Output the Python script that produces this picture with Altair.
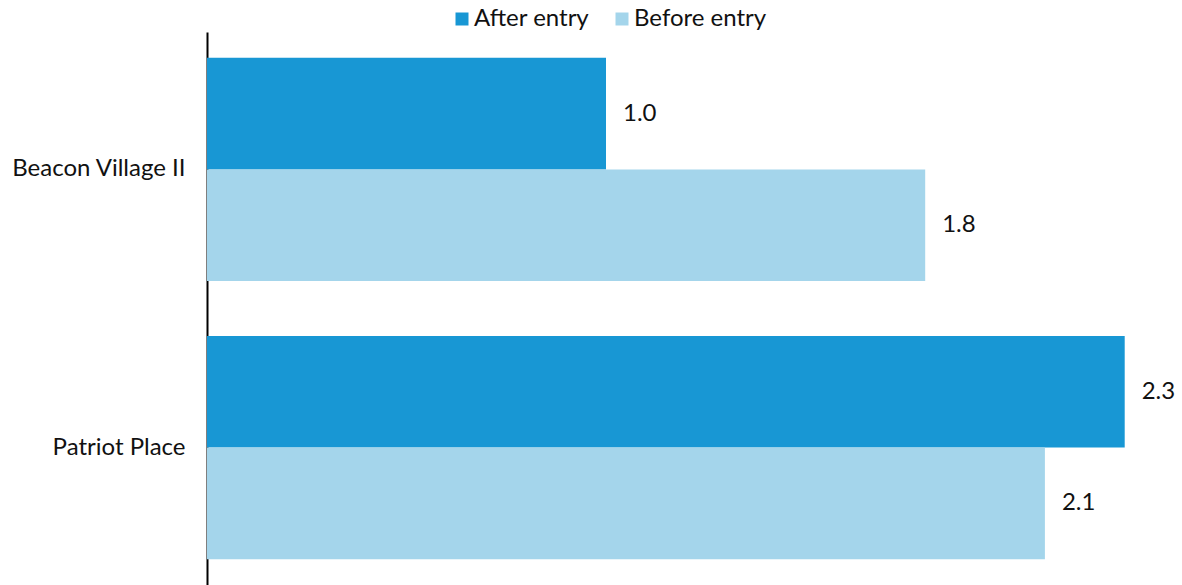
import altair as alt
import pandas as pd

sites = ["Beacon Village II", "Beacon Village II", "Patriot Place", "Patriot Place"]
series = ["After entry", "Before entry", "After entry", "Before entry"]
values = [1.0, 1.8, 2.3, 2.1]
labels = ["1.0", "1.8", "2.3", "2.1"]

df = pd.DataFrame({"site": sites, "series": series, "value": values, "label": labels})

order = ["After entry", "Before entry"]
colors = ["#1897d4", "#a4d5eb"]
FONT = "Lato"
FS = 24

y = alt.Y("site:N", sort=["Beacon Village II", "Patriot Place"],
          scale=alt.Scale(paddingInner=0.197, paddingOuter=0.093),
          axis=alt.Axis(title=None, ticks=False, domainColor="black", domainWidth=2,
                        labelFont=FONT, labelFontSize=FS, labelColor="#111",
                        labelPadding=22))
yoff = alt.YOffset("series:N", sort=order, scale=alt.Scale(paddingInner=0, paddingOuter=0))
x = alt.X("value:Q", scale=alt.Scale(domain=[0, 2.4436], nice=False, zero=True),
          axis=None)

bars = alt.Chart(df).mark_bar(cornerRadius=0).encode(
    x=x, y=y, yOffset=yoff,
    color=alt.Color("series:N", sort=order,
                    scale=alt.Scale(domain=order, range=colors),
                    legend=alt.Legend(title=None, orient="none", direction="horizontal",
                                      legendX=243, legendY=-25, padding=0,
                                      symbolType="square", symbolSize=169,
                                      symbolStrokeWidth=0, labelOffset=0,
                                      columnPadding=20,
                                      labelFont=FONT, labelFontSize=FS,
                                      labelColor="#111")),
)

text = alt.Chart(df).mark_text(align="left", baseline="middle", dx=17,
                               font=FONT, fontSize=FS, color="#111").encode(
    x=x, y=y, yOffset=yoff, text="label:N")

chart = (bars + text).properties(
    width=975, height=553,
    autosize=alt.AutoSizeParams(type="none"),
    padding={"left": 207, "top": 32, "right": 0, "bottom": 0},
).configure(background="white").configure_view(stroke=None)

chart.save("out.html", embed_options={"renderer": "svg", "actions": False})
